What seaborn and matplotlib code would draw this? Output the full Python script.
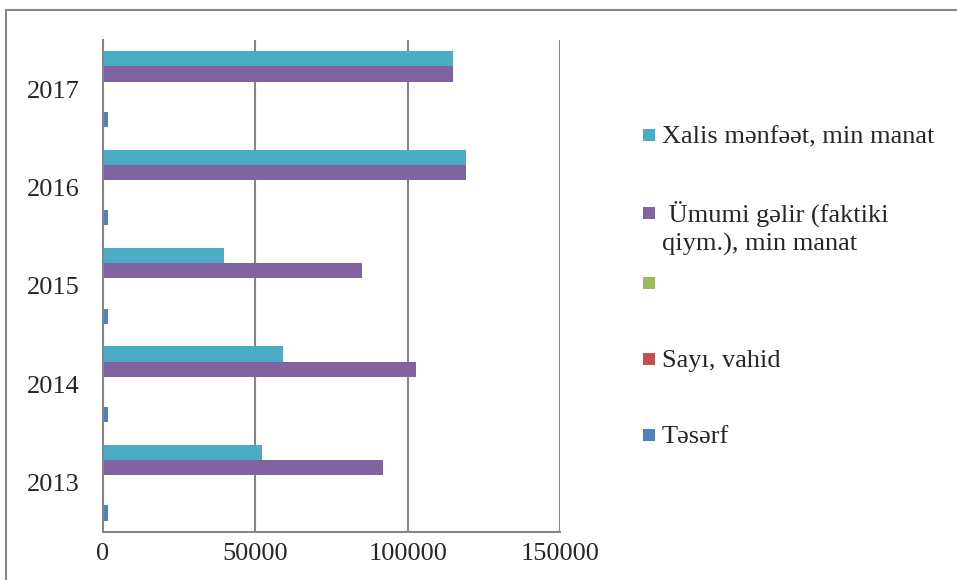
import pandas as pd
import numpy as np

import matplotlib.pyplot as plt
import matplotlib.patches as mpatches
import seaborn as sns

# =========================
#  DATA
# =========================

years = ['2013', '2014', '2015', '2016', '2017']
tesarf = [1500, 1500, 1500, 1500, 1500]
sayi = [12, 12, 12, 12, 12]
empty = [0, 0, 0, 0, 0]
umumi_gelir = [91900, 102700, 85000, 119100, 114900]
xalis_menfeet = [52200, 59100, 39700, 119100, 114900]

series_names = ['Xalis mənfəət, min manat',
                ' Ümumi gəlir (faktiki\nqiym.), min manat',
                '',
                'Sayı, vahid',
                'Təsərf']
series_values = [xalis_menfeet, umumi_gelir, empty, sayi, tesarf]
colors = ['#4BACC6', '#8064A2', '#9BBB59', '#C0504D', '#4F81BD']
x_ticks = [0, 50000, 100000, 150000]

# =========================
#  LONG FORM DATAFRAME
# =========================

rows = []
for name, vals in zip(series_names, series_values):
    for yr, v in zip(years, vals):
        rows.append({'year': yr, 'series': name, 'value': v})
df = pd.DataFrame(rows)

# =========================
#  PLOT
# =========================

sns.set_style('white')
plt.rcParams['font.family'] = ['Liberation Serif', 'DejaVu Serif']

W, H = 957, 580
fig = plt.figure(figsize=(W / 100, H / 100), dpi=100)
ax = fig.add_axes([0.1076, 0.083, 0.4776, 0.848])

sns.barplot(data=df, y='year', x='value', hue='series', orient='h',
            order=years[::-1], hue_order=series_names, palette=colors,
            width=0.77, gap=0, saturation=1, edgecolor='none',
            errorbar=None, ax=ax, legend=False)

grid_col = '#868686'
ax.set_xlim(0, 150000)
ax.set_ylim(len(years) - 0.5, -0.5)
ax.set_xticks(x_ticks)
ax.set_xticklabels([str(t) for t in x_ticks], fontsize=19)
ax.tick_params(axis='x', direction='out', length=8, width=1.5, color=grid_col, pad=0)
ax.tick_params(axis='y', which='major', length=0, pad=17, labelsize=19)
ax.set_yticks(np.arange(-0.5, len(years) + 0.5, 1), minor=True)
ax.tick_params(axis='y', which='minor', direction='out', length=8, width=1.5, color=grid_col)
ax.set_xlabel('')
ax.set_ylabel('')

for t in x_ticks[1:]:
    ax.axvline(t, color=grid_col, lw=1.5, zorder=0)

for s in ['top', 'right']:
    ax.spines[s].set_visible(False)
for s in ['left', 'bottom']:
    ax.spines[s].set_color(grid_col)
    ax.spines[s].set_linewidth(1.5)

# legend drawn by hand: Excel puts the marker next to the first line of a label
legend_rows = [135, 213, 283, 359, 435]   # pixel rows of the markers
line_gap = 30
for c, n, py in zip(colors, series_names, legend_rows):
    yf = 1 - py / H
    fig.patches.append(mpatches.Rectangle((643 / W, yf - 6 / H), 12 / W, 12 / H,
                                          transform=fig.transFigure,
                                          facecolor=c, edgecolor='none'))
    # baseline of the last line
    base = py + 8 + line_gap * n.count('\n')
    fig.text(662 / W, 1 - base / H, n, fontsize=19, va='baseline', ha='left',
             linespacing=1.36)

# outer border of the chart area
fig.patches.append(mpatches.Rectangle((0.006, -0.01), 1.0, 0.993, transform=fig.transFigure,
                                      fill=False, edgecolor=grid_col, lw=1.5))

fig.savefig('out.png', dpi=100)
plt.close()
